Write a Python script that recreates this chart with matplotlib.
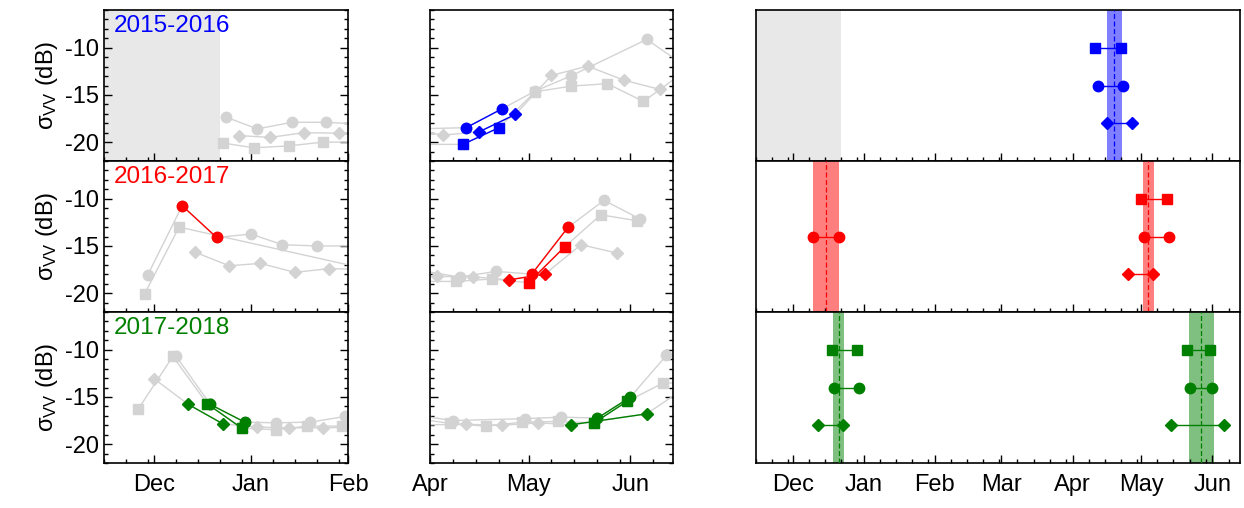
import pandas as pd
import matplotlib
matplotlib.use("Agg")
import matplotlib.pyplot as plt
import matplotlib.dates as mdates
from matplotlib.ticker import MultipleLocator, NullFormatter

plt.rcParams['font.family'] = ['Liberation Sans', 'DejaVu Sans']
plt.rcParams['axes.unicode_minus'] = False
plt.rcParams['font.size'] = 17


def d(md):
    # month-day -> timestamp in the common Nov..Jun season used on every axis
    month = int(md[:2])
    year = 2015 if month >= 7 else 2016
    return pd.Timestamp(f"{year}-{md}")


# ---- data: sigma_VV (dB) per season, three sites (circle / square / diamond)
seasons = ["2015-2016", "2016-2017", "2017-2018"]
season_colors = ["blue", "red", "green"]

# 2015-2016
o15_dates = ["12-24", "01-03", "01-14", "01-25", "02-05", "03-27", "04-12", "04-23", "05-03", "05-14", "06-06", "06-18"]
o15_vals = [-17.35, -18.6, -17.9, -17.9, -18.1, -18.6, -18.47, -16.46, -14.6, -12.97, -9.12, -12.0]
s15_dates = ["12-23", "01-02", "01-13", "01-24", "02-04", "03-30", "04-11", "04-22", "05-03", "05-14", "05-25", "06-05", "06-16"]
s15_vals = [-20.1, -20.6, -20.4, -20.0, -20.0, -20.24, -20.24, -18.47, -14.66, -14.07, -13.8, -15.69, -12.9]
D15_dates = ["12-28", "01-07", "01-18", "01-29", "02-09", "03-24", "04-05", "04-16", "04-27", "05-08", "05-19", "05-30", "06-10"]
D15_vals = [-19.3, -19.5, -19.0, -19.05, -19.1, -18.6, -19.26, -18.9, -17.07, -12.93, -11.95, -13.43, -14.42]

# 2016-2017
o16_dates = ["11-29", "12-10", "12-21", "01-01", "01-11", "01-22", "02-03", "03-29", "04-10", "04-21", "05-02", "05-13", "05-24", "06-04"]
o16_vals = [-18.06, -10.74, -14.1, -13.74, -14.87, -15.0, -15.0, -17.6, -18.3, -17.7, -17.98, -13.04, -10.17, -12.15]
s16_dates = ["11-28", "12-09", "02-15", "03-28", "04-09", "04-20", "05-01", "05-12", "05-23", "06-03"]
s16_vals = [-20.07, -13.0, -18.04, -18.76, -18.76, -18.5, -18.9, -15.1, -11.7, -12.33]
D16_dates = ["12-14", "12-25", "01-04", "01-15", "01-26", "02-06", "03-23", "04-03", "04-14", "04-25", "05-06", "05-17", "05-28"]
D16_vals = [-15.65, -17.1, -16.85, -17.8, -17.4, -17.5, -17.9, -18.23, -18.27, -18.6, -17.98, -14.87, -15.76]

# 2017-2018
o17_dates = ["12-08", "12-19", "12-30", "01-09", "01-20", "01-31", "02-11", "03-27", "04-08", "04-30", "05-11", "05-22", "06-01", "06-12"]
o17_vals = [-10.67, -15.8, -17.67, -17.74, -17.67, -17.07, -16.9, -16.9, -17.5, -17.3, -17.14, -17.24, -15.02, -10.6]
s17_dates = ["11-26", "12-07", "12-18", "12-29", "01-09", "01-19", "01-30", "02-10", "03-26", "04-07", "04-18", "04-29", "05-10", "05-21", "05-31", "06-11", "06-22"]
s17_vals = [-16.26, -10.7, -15.73, -18.3, -18.48, -18.09, -18.09, -18.1, -17.2, -17.8, -18.1, -17.67, -17.6, -17.74, -15.47, -13.53, -13.5]
D17_dates = ["12-01", "12-12", "12-23", "01-03", "01-13", "01-24", "02-04", "04-12", "04-23", "05-04", "05-14", "06-06", "06-17"]
D17_vals = [-13.07, -15.8, -17.85, -18.2, -18.27, -18.27, -18.2, -17.9, -18.0, -17.74, -17.95, -16.79, -14.2]

# highlighted windows (marker, first date, last date)
hl15_marker = ["o", "s", "D"]
hl15_start = ["04-12", "04-11", "04-16"]
hl15_end = ["04-23", "04-22", "04-27"]
hl16_marker = ["o", "o", "s", "D"]
hl16_start = ["12-10", "05-02", "05-01", "04-25"]
hl16_end = ["12-21", "05-13", "05-12", "05-06"]
hl17_marker = ["o", "s", "D", "o", "s", "D"]
hl17_start = ["12-19", "12-18", "12-12", "05-22", "05-21", "05-14"]
hl17_end = ["12-30", "12-29", "12-23", "06-01", "05-31", "06-06"]

# shaded windows on the right-hand panels
span15_start = ["04-15 21:00"]
span15_end = ["04-22 10:00"]
span15_mid = ["04-19"]
span16_start = ["12-09 18:00", "05-01 17:00"]
span16_end = ["12-21 09:00", "05-06 16:00"]
span16_mid = ["12-15 14:00", "05-04"]
span17_start = ["12-18 15:00", "05-21 18:00"]
span17_end = ["12-23 10:00", "06-01 13:00"]
span17_mid = ["12-21", "05-27"]

no_data_end = "12-22"  # first season starts late
marker_level = {"s": -10, "o": -14, "D": -18}
marker_size = {"o": 7.5, "s": 6.5, "D": 6.5}

series = [
    [("o", o15_dates, o15_vals), ("s", s15_dates, s15_vals), ("D", D15_dates, D15_vals)],
    [("o", o16_dates, o16_vals), ("s", s16_dates, s16_vals), ("D", D16_dates, D16_vals)],
    [("o", o17_dates, o17_vals), ("s", s17_dates, s17_vals), ("D", D17_dates, D17_vals)],
]
highlights = [
    (hl15_marker, hl15_start, hl15_end),
    (hl16_marker, hl16_start, hl16_end),
    (hl17_marker, hl17_start, hl17_end),
]
spans = [
    (span15_start, span15_end, span15_mid),
    (span16_start, span16_end, span16_mid),
    (span17_start, span17_end, span17_mid),
]

grey = "#d3d3d3"
W, H = 1244, 508
fig = plt.figure(figsize=(W / 100, H / 100), dpi=100)

row_tops = [10, 161, 312]
row_h = 151
cols = [(104, 244), (430, 243), (756, 484)]
xlims = [(d("11-15"), d("02-01")), (d("04-01"), d("06-14")), (d("11-15"), d("06-13"))]


def style(ax, bottom_row, yticks=True):
    ax.set_ylim(-22, -6)
    ax.xaxis.set_major_locator(mdates.MonthLocator())
    ax.xaxis.set_minor_locator(mdates.DayLocator(bymonthday=[8, 15, 22, 29]))
    ax.xaxis.set_major_formatter(mdates.DateFormatter("%b"))
    if not bottom_row:
        ax.xaxis.set_major_formatter(NullFormatter())
    ax.tick_params(axis="x", which="major", direction="in", length=6, width=1, pad=8)
    ax.tick_params(axis="x", which="minor", direction="in", length=3, width=1)
    if yticks:
        ax.yaxis.set_major_locator(MultipleLocator(5))
        ax.yaxis.set_minor_locator(MultipleLocator(1))
        ax.tick_params(axis="y", which="both", direction="in", left=True, right=True)
        ax.tick_params(axis="y", which="major", length=6, width=1)
        ax.tick_params(axis="y", which="minor", length=3, width=1)
    else:
        ax.set_yticks([])
    for sp in ax.spines.values():
        sp.set_linewidth(1.2)


for r in range(3):
    color = season_colors[r]
    bottom_row = r == 2
    axes = []
    for c, (x0, w) in enumerate(cols):
        rect = [x0 / W, 1 - (row_tops[r] + row_h) / H, w / W, row_h / H]
        ax = fig.add_axes(rect)
        ax.set_xlim(*xlims[c])
        style(ax, bottom_row, yticks=(c < 2))
        axes.append(ax)
    ax_l, ax_m, ax_r = axes

    # grey full time series, drawn on both broken-axis panels
    for mk, dates, vals in series[r]:
        t = [d(s) for s in dates]
        for ax in (ax_l, ax_m):
            ax.plot(t, vals, color=grey, lw=1, marker=mk, ms=marker_size[mk],
                    mec=grey, mfc=grey, zorder=2)

    # coloured windows
    mks, starts, ends = highlights[r]
    lookup = {mk: ([d(s) for s in dates], vals) for mk, dates, vals in series[r]}
    for mk, a, b in zip(mks, starts, ends):
        t_all, v_all = lookup[mk]
        sel = [(t, v) for t, v in zip(t_all, v_all) if d(a) <= t <= d(b)]
        tt = [p[0] for p in sel]
        vv = [p[1] for p in sel]
        for ax in (ax_l, ax_m):
            ax.plot(tt, vv, color=color, lw=1, marker=mk, ms=marker_size[mk],
                    mec=color, mfc=color, zorder=4)
        lvl = marker_level[mk]
        ax_r.plot([tt[0], tt[-1]], [lvl, lvl], color=color, lw=1, marker=mk,
                  ms=marker_size[mk], mec=color, mfc=color, zorder=4)

    s0, s1, sm = spans[r]
    for a, b, m in zip(s0, s1, sm):
        ax_r.axvspan(d(a), d(b), color=color, alpha=0.5, lw=0, zorder=1)
        ax_r.axvline(d(m), color=color, lw=0.9, ls=(0, (4, 2)), zorder=3)

    if r == 0:
        for ax in (ax_l, ax_r):
            ax.axvspan(d("11-01"), d(no_data_end), color="#e8e8e8", lw=0, zorder=0)

    ax_l.text(0.04, 0.965, seasons[r], color=color, transform=ax_l.transAxes,
              ha="left", va="top", fontsize=17.5)
    ax_l.set_ylabel(r"$\mathregular{\sigma_{VV}}$ (dB)", labelpad=4)
    ax_m.set_yticklabels([])

fig.savefig("out.png", dpi=100)
